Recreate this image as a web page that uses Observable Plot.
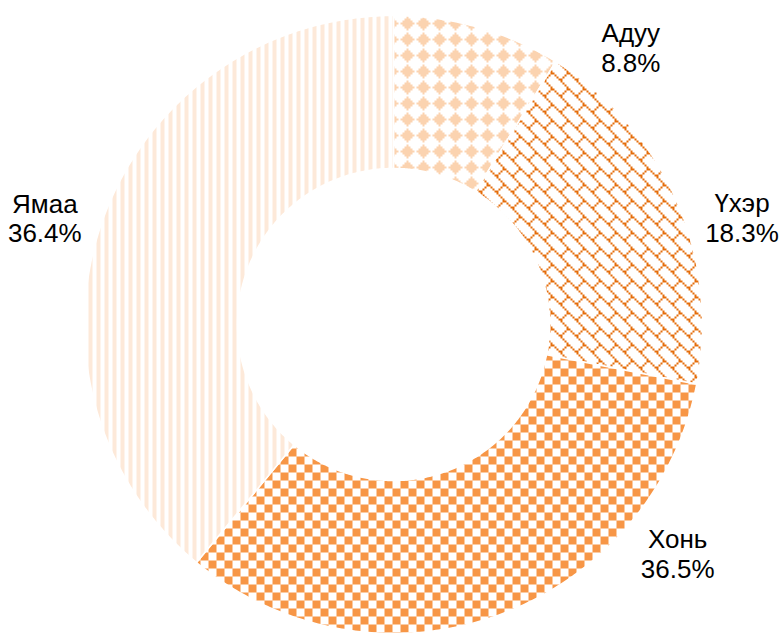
<!DOCTYPE html>
<html>
<head>
<meta charset="utf-8">
<script src="https://cdn.jsdelivr.net/npm/d3@7"></script>
<script src="https://cdn.jsdelivr.net/npm/@observablehq/plot@0.6"></script>
<style>
  html, body { margin: 0; padding: 0; background: #fff; }
  #chart svg { display: block; }
</style>
</head>
<body>
<div id="chart"></div>
<script>
// ---- data ----
const categories = ["Адуу", "Үхэр", "Хонь", "Ямаа"];
// slice sizes as drawn in the picture (share of the full turn, %)
const sliceShares = [8.8, 19.3, 32.9, 39.0];
// printed labels
const valueLabels = ["8.8%", "18.3%", "36.5%", "36.4%"];

// ---- layout / style (not data) ----
const W = 783, H = 633;
const R = 309;               // outer radius in px, used to size the scale domains
const cx = 393, cy = 324;    // centre in px
const innerRatio = 156 / 309;
const labelRadius = 1.18;
const labelAngles = [40.6, 72.9, 128.8, 287.0]; // best-fit label directions (deg, clockwise from top)
const patternIds = ["pDiamond", "pBrick", "pCheck", "pStripe"];

const pie = d3.pie().sort(null).value(d => d.value).startAngle(0).endAngle(2 * Math.PI);
const arcs = pie(categories.map((c, i) => ({category: c, value: sliceShares[i], label: valueLabels[i], i})));

function slicePolygon(a) {
  const pts = [];
  const n = Math.max(8, Math.ceil((a.endAngle - a.startAngle) / (Math.PI / 360)));
  for (let k = 0; k <= n; k++) {
    const t = a.startAngle + (a.endAngle - a.startAngle) * k / n;
    pts.push({x: Math.sin(t), y: Math.cos(t)});
  }
  for (let k = n; k >= 0; k--) {
    const t = a.startAngle + (a.endAngle - a.startAngle) * k / n;
    pts.push({x: innerRatio * Math.sin(t), y: innerRatio * Math.cos(t)});
  }
  return pts;
}

const labels = arcs.map((a, i) => {
  const t = labelAngles[i] * Math.PI / 180;
  return {x: labelRadius * Math.sin(t), y: labelRadius * Math.cos(t), text: a.data.category + "\n" + a.data.label};
});

const sliceMarks = arcs.map((a, i) =>
  Plot.line(slicePolygon(a), {
    x: "x", y: "y",
    curve: "linear-closed",
    fill: `url(#${patternIds[i]})`,
    stroke: "#ffffff",
    strokeWidth: 1.5
  })
);

const chart = Plot.plot({
  width: W,
  height: H,
  margin: 0,
  x: {domain: [-cx / R, (W - cx) / R], axis: null},
  y: {domain: [-(H - cy) / R, cy / R], axis: null},
  style: {fontFamily: "'Liberation Sans', Arial, sans-serif", background: "#fff"},
  marks: [
    ...sliceMarks,
    Plot.text(labels, {
      x: "x", y: "y", text: "text",
      fontSize: 26,
      lineHeight: 30 / 26,
      fill: "#000",
      textAnchor: "middle"
    })
  ]
});

// ---- pattern fills ----
const svgNS = "http://www.w3.org/2000/svg";
const defs = document.createElementNS(svgNS, "defs");
chart.insertBefore(defs, chart.firstChild);

function bitmapPattern(id, rows, color, scale) {
  const size = rows.length * scale;
  const p = document.createElementNS(svgNS, "pattern");
  p.setAttribute("id", id);
  p.setAttribute("patternUnits", "userSpaceOnUse");
  p.setAttribute("width", size);
  p.setAttribute("height", size);
  const bg = document.createElementNS(svgNS, "rect");
  bg.setAttribute("width", size); bg.setAttribute("height", size); bg.setAttribute("fill", "#fff");
  p.appendChild(bg);
  rows.forEach((row, r) => {
    for (let c = 0; c < row.length; c++) {
      if (row[c] === "1") {
        const q = document.createElementNS(svgNS, "rect");
        q.setAttribute("x", c * scale); q.setAttribute("y", r * scale);
        q.setAttribute("width", scale); q.setAttribute("height", scale);
        q.setAttribute("fill", color);
        q.setAttribute("shape-rendering", "crispEdges");
        p.appendChild(q);
      }
    }
  });
  defs.appendChild(p);
}

bitmapPattern("pDiamond", [
  "00010000",
  "00111000",
  "01111100",
  "11111110",
  "01111100",
  "00111000",
  "00010000",
  "00000000"
], "#fbd3b0", 2);

bitmapPattern("pBrick", [
  "10000000",
  "01000000",
  "00100000",
  "00010000",
  "00011000",
  "00100100",
  "01000010",
  "10000001"
], "#e46c0a", 2);

bitmapPattern("pCheck", [
  "11110000",
  "11110000",
  "11110000",
  "11110000",
  "00001111",
  "00001111",
  "00001111",
  "00001111"
], "#f79646", 2);

bitmapPattern("pStripe", [
  "11001100",
  "11001100",
  "11001100",
  "11001100",
  "11001100",
  "11001100",
  "11001100",
  "11001100"
], "#fde9d9", 2);

document.getElementById("chart").appendChild(chart);
</script>
</body>
</html>
